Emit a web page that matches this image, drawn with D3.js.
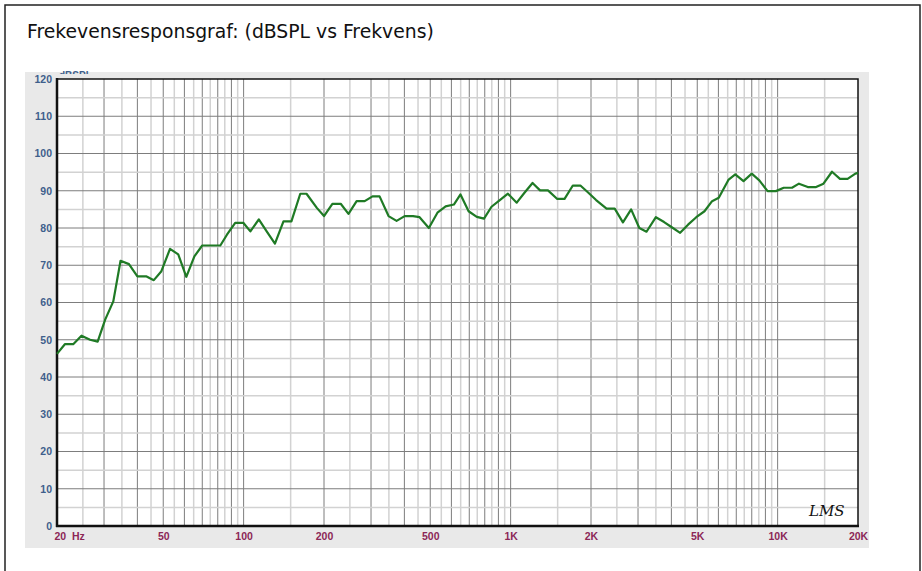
<!DOCTYPE html>
<html>
<head>
<meta charset="utf-8">
<script src="https://cdn.jsdelivr.net/npm/d3@7/dist/d3.min.js"></script>
<style>
  html, body { margin: 0; padding: 0; background: #fff; }
  svg { display: block; }
</style>
</head>
<body>
<svg id="chart" width="922" height="571"></svg>
<script>
// ---- Data ----
const title = "Frekevensresponsgraf: (dBSPL vs Frekvens)";
const freqs = [20, 21.4, 23, 24.7, 26.6, 28.4, 30.3, 32.5, 34.6, 37.2, 40, 43.3, 46.1, 49.2, 53, 56.9, 61, 65.4, 70, 75.8,
  81.8, 86.6, 93, 99.7, 106, 114, 122, 131, 141, 151, 163, 172, 188, 200, 215, 231, 247, 265, 284, 304,
  323, 349, 374, 401, 431, 456, 494, 532, 571, 613, 649, 696, 747, 795, 848, 911, 977, 1054, 1125, 1208,
  1289, 1380, 1495, 1592, 1710, 1825, 1960, 2090, 2287, 2454, 2634, 2827, 3034, 3228, 3500, 3757, 4014, 4314, 4619, 4958,
  5322, 5682, 6020, 6556, 6940, 7452, 8000, 8540, 9170, 9850, 10540, 11320, 12020, 12970, 13930, 14850, 15980, 17120, 18280, 19560, 20000];
const dbspl = [46.2, 48.8, 48.8, 51.1, 50, 49.5, 55.4, 60.3, 71.2, 70.3, 67, 67, 66, 68.4, 74.4, 72.9, 66.9, 72.4, 75.3, 75.3,
  75.3, 78.2, 81.4, 81.4, 79.1, 82.3, 79.1, 75.8, 81.8, 81.8, 89.2, 89.2, 85.4, 83.2, 86.5, 86.5, 83.8, 87.2, 87.2, 88.5,
  88.5, 83.2, 81.9, 83.2, 83.2, 82.9, 80, 84.1, 85.8, 86.3, 89, 84.5, 83, 82.5, 85.7, 87.5, 89.2, 86.8, 89.4, 92.1,
  90.1, 90.1, 87.8, 87.8, 91.4, 91.4, 89.4, 87.5, 85.2, 85.2, 81.5, 85, 80, 79, 82.9, 81.6, 80.2, 78.7, 80.9, 82.9,
  84.5, 87.2, 88.1, 93, 94.4, 92.6, 94.6, 92.8, 89.9, 89.9, 90.8, 90.8, 91.9, 91, 91, 91.9, 95.1, 93.2, 93.2, 94.6, 94.8];
const yTicks = [0, 10, 20, 30, 40, 50, 60, 70, 80, 90, 100, 110, 120];
const xTickValues = [20, 50, 100, 200, 500, 1000, 2000, 5000, 10000, 20000];
const xTickLabels = ["20  Hz", "50", "100", "200", "500", "1K", "2K", "5K", "10K", "20K"];
const decades = [10, 100, 1000, 10000];
const multipliers = [1, 2, 3, 4, 5, 6, 7, 8, 9];
const yUnitLabel = "dBSPL";
const signature = "LMS";

// ---- Layout ----
const svg = d3.select("#chart");
const plot = { left: 57, right: 858, top: 79, bottom: 526 };

const x = d3.scaleLog().domain([20, 20000]).range([plot.left, plot.right]);
const y = d3.scaleLinear().domain([0, 120]).range([plot.bottom, plot.top]);

// outer frame
svg.append("rect").attr("x", 5).attr("y", 5).attr("width", 915).attr("height", 580)
  .attr("fill", "#fff").attr("stroke", "#222").attr("stroke-width", 1.5);

// title
svg.append("text").attr("x", 27).attr("y", 38)
  .attr("font-family", "DejaVu Sans, Verdana, sans-serif").attr("font-size", 18.8)
  .attr("fill", "#111").text(title);

// gray panel
svg.append("rect").attr("x", 25).attr("y", 72).attr("width", 844).attr("height", 476).attr("fill", "#e9e9e9");

// tiny unit label, cut off by the panel edge (only its top shows)
svg.append("clipPath").attr("id", "unitclip").append("rect")
  .attr("x", 55).attr("y", 70).attr("width", 40).attr("height", 4);
svg.append("text").attr("x", 59).attr("y", 79).attr("clip-path", "url(#unitclip)")
  .attr("font-family", "Liberation Sans, Arial, sans-serif").attr("font-weight", "bold")
  .attr("font-size", 10).attr("fill", "#3f5f8c").text(yUnitLabel);

// plot background
svg.append("rect").attr("x", plot.left).attr("y", plot.top)
  .attr("width", plot.right - plot.left).attr("height", plot.bottom - plot.top).attr("fill", "#fff");

const grid = svg.append("g");
// vertical grid
const darkF = [], lightF = [];
decades.forEach(d => multipliers.forEach(m => {
  const f1 = m * d, f2 = (m + 0.5) * d;
  if (f1 > 20 && f1 < 20000) darkF.push(f1);
  if (f2 > 20 && f2 < 20000) lightF.push(f2);
}));
grid.selectAll("line.vl").data(lightF).join("line").attr("class", "vl")
  .attr("x1", d => x(d)).attr("x2", d => x(d)).attr("y1", plot.top).attr("y2", plot.bottom)
  .attr("stroke", "#d2d2d2").attr("stroke-width", 1.5);
grid.selectAll("line.vd").data(darkF).join("line").attr("class", "vd")
  .attr("x1", d => x(d)).attr("x2", d => x(d)).attr("y1", plot.top).attr("y2", plot.bottom)
  .attr("stroke", "#7d7d7d").attr("stroke-width", 1);
// horizontal grid
const hLight = yTicks.slice(0, -1).map(v => v + 5);
const hDark = yTicks.filter(v => v > 0 && v < 120);
grid.selectAll("line.hl").data(hLight).join("line").attr("class", "hl")
  .attr("x1", plot.left).attr("x2", plot.right).attr("y1", d => y(d)).attr("y2", d => y(d))
  .attr("stroke", "#d2d2d2").attr("stroke-width", 1.5);
grid.selectAll("line.hd").data(hDark).join("line").attr("class", "hd")
  .attr("x1", plot.left).attr("x2", plot.right).attr("y1", d => y(d)).attr("y2", d => y(d))
  .attr("stroke", "#7d7d7d").attr("stroke-width", 1);

// plot border
svg.append("rect").attr("x", plot.left).attr("y", plot.top)
  .attr("width", plot.right - plot.left).attr("height", plot.bottom - plot.top)
  .attr("fill", "none").attr("stroke", "#111").attr("stroke-width", 1.5);
svg.append("line").attr("x1", plot.left).attr("x2", plot.left).attr("y1", plot.top - 1).attr("y2", plot.bottom + 1)
  .attr("stroke", "#111").attr("stroke-width", 2.5);
svg.append("line").attr("x1", plot.left - 1).attr("x2", plot.right + 1).attr("y1", plot.bottom).attr("y2", plot.bottom)
  .attr("stroke", "#111").attr("stroke-width", 2.5);

// curve
const pts = freqs.map((f, i) => [f, dbspl[i]]);
svg.append("path").datum(pts)
  .attr("d", d3.line().x(d => x(d[0])).y(d => y(d[1])))
  .attr("fill", "none").attr("stroke", "#1f7a25").attr("stroke-width", 2.2).attr("stroke-linejoin", "round");

// axes (labels only)
const yAxis = svg.append("g").attr("transform", `translate(${plot.left - 3},0)`)
  .call(d3.axisLeft(y).tickValues(yTicks).tickSize(0).tickPadding(2));
yAxis.select(".domain").remove();
yAxis.selectAll("text").attr("font-family", "Liberation Sans, Arial, sans-serif")
  .attr("font-weight", "bold").attr("font-size", 10.5).attr("fill", "#3f5f8c");

const xAxis = svg.append("g").attr("transform", `translate(0,${plot.bottom})`)
  .call(d3.axisBottom(x).tickValues(xTickValues).tickSize(0).tickPadding(7)
    .tickFormat((d, i) => xTickLabels[i]));
xAxis.select(".domain").remove();
xAxis.selectAll("text").attr("font-family", "Liberation Sans, Arial, sans-serif")
  .attr("font-weight", "bold").attr("font-size", 10.5).attr("fill", "#8c2756")
  .style("white-space", "pre");
xAxis.selectAll("text").filter((d, i) => i === 0).attr("text-anchor", "start").attr("x", -3);

// signature
svg.append("text").attr("x", 809).attr("y", 516)
  .attr("font-family", "DejaVu Serif, serif").attr("font-style", "italic")
  .attr("font-size", 15).attr("fill", "#111").text(signature);
</script>
</body>
</html>
